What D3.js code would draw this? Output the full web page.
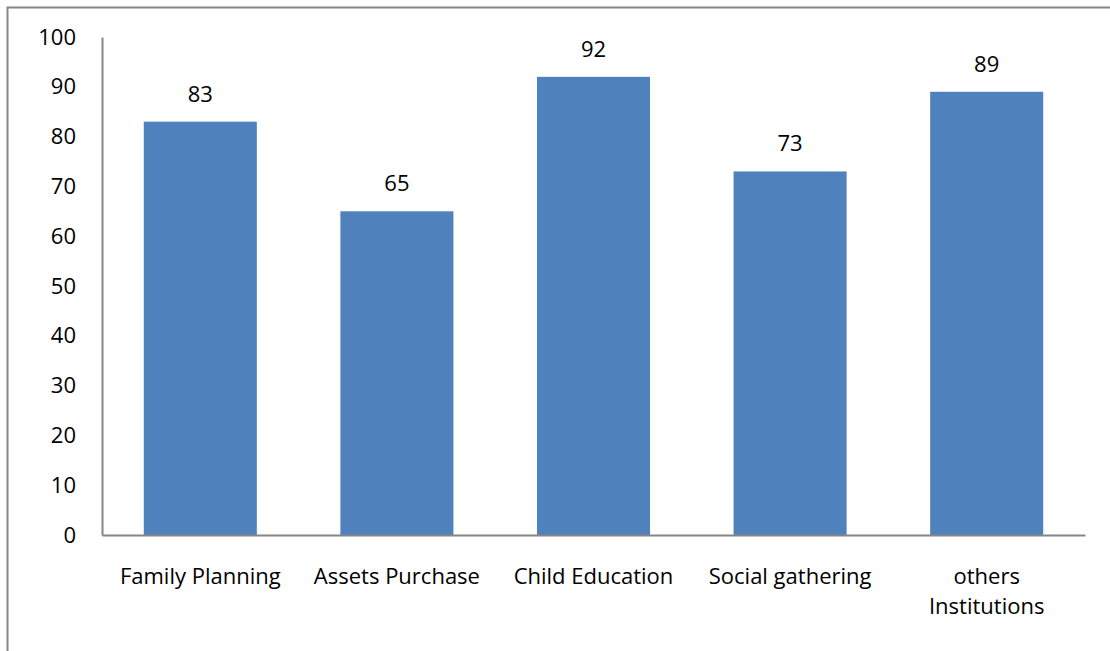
<!DOCTYPE html>
<html>
<head>
<meta charset="utf-8">
<script src="https://cdn.jsdelivr.net/npm/d3@7/dist/d3.min.js"></script>
<style>
  html, body { margin: 0; padding: 0; background: #fff; }
  svg { display: block; }
  text { font-family: "Open Sans", Lato, "Liberation Sans", sans-serif; fill: #000; }
</style>
</head>
<body>
<div id="chart"></div>
<script>
// Purposes and their percentages
const categories = [["Family Planning"], ["Assets Purchase"], ["Child Education"], ["Social gathering"], ["others", "Institutions"]];
const values = [83, 65, 92, 73, 89];
const yTicks = [0, 10, 20, 30, 40, 50, 60, 70, 80, 90, 100];

const W = 1110, H = 651;
const margin = { left: 102, right: 25, top: 37, bottom: 116 };
const FONT = 22;

const svg = d3.select("#chart").append("svg").attr("width", W).attr("height", H);

// Outer frame
svg.append("rect")
  .attr("x", 7.5).attr("y", 7.5)
  .attr("width", W + 20).attr("height", H + 20)
  .attr("fill", "none").attr("stroke", "#878787").attr("stroke-width", 2);

const x = d3.scaleBand()
  .domain(categories.map((c, i) => i))
  .range([margin.left, W - margin.right])
  .paddingInner(0.425).paddingOuter(0.2125);

const y = d3.scaleLinear().domain([0, 100]).range([H - margin.bottom, margin.top]);

// Bars
svg.selectAll("rect.bar").data(values).join("rect")
  .attr("class", "bar")
  .attr("x", (d, i) => x(i))
  .attr("width", x.bandwidth())
  .attr("y", d => y(d))
  .attr("height", d => y(0) - y(d))
  .attr("fill", "#4F81BD");

// Value labels
svg.selectAll("text.val").data(values).join("text")
  .attr("class", "val")
  .attr("x", (d, i) => x(i) + x.bandwidth() / 2)
  .attr("y", d => y(d) - 20)
  .attr("text-anchor", "middle")
  .attr("font-size", FONT)
  .text(d => d);

// Y axis
const yAxis = d3.axisLeft(y).tickValues(yTicks).tickSize(0).tickPadding(26);
const gy = svg.append("g").attr("transform", `translate(${margin.left},0)`).call(yAxis);
gy.select(".domain").attr("stroke", "#868686").attr("stroke-width", 2);
gy.selectAll("text").attr("font-size", FONT).attr("font-family", '"Open Sans", Lato, sans-serif').attr("fill", "#000");

// X axis
const xAxis = d3.axisBottom(x).tickSize(0).tickFormat("");
const gx = svg.append("g").attr("transform", `translate(0,${y(0)})`).call(xAxis);
gx.select(".domain").attr("stroke", "#868686").attr("stroke-width", 2);

// Category labels (possibly two lines)
const lab = svg.selectAll("text.cat").data(categories).join("text")
  .attr("class", "cat")
  .attr("text-anchor", "middle")
  .attr("font-size", FONT)
  .attr("transform", (d, i) => `translate(${x(i) + x.bandwidth() / 2},${y(0) + 49})`);
lab.selectAll("tspan").data(d => d).join("tspan")
  .attr("x", 0)
  .attr("dy", (d, j) => j === 0 ? 0 : 30)
  .text(d => d);
</script>
</body>
</html>
